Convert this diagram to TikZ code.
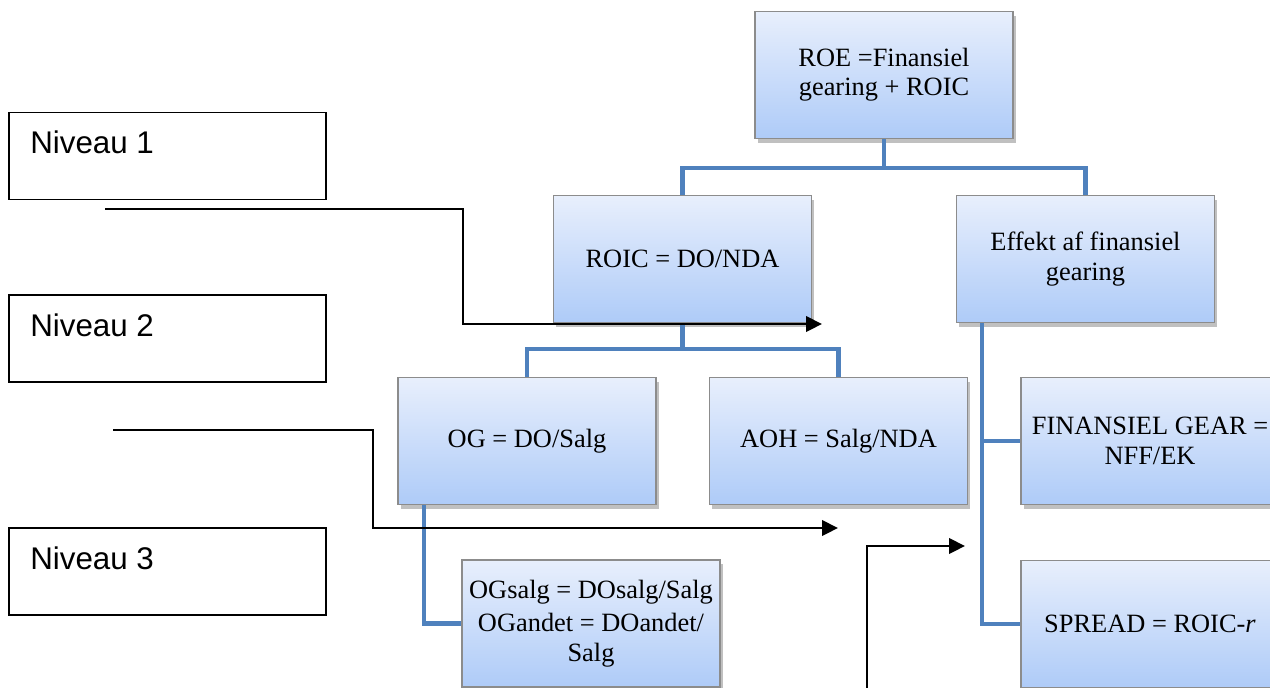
\documentclass[tikz,border=0pt]{standalone}
\usepackage{fontspec}
\setmainfont{Liberation Serif}
\newfontfamily\nivfont{Liberation Sans}
\usetikzlibrary{shadows,arrows.meta}
\definecolor{conn}{RGB}{79,129,189}
\definecolor{boxtop}{RGB}{232,239,252}
\definecolor{boxbot}{RGB}{174,203,248}
\definecolor{boxline}{RGB}{140,140,140}
\tikzset{
  fbox/.style={draw=boxline, line width=0.9pt, top color=boxtop, bottom color=boxbot,
    minimum width=258*0.75pt, minimum height=127*0.75pt, inner sep=2pt,
    align=center, font=\fontsize{19.8}{22}\selectfont,
    drop shadow={shadow xshift=2pt, shadow yshift=-3pt, opacity=0.35, fill=black!70}},
  nivbox/.style={draw=black, line width=1.3pt, minimum width=317*0.75pt, minimum height=87*0.75pt, inner sep=0pt},
  nivtext/.style={anchor=base west, inner sep=0pt, font=\nivfont\fontsize{23.5}{27}\selectfont},
  link/.style={draw=conn, line width=3.5pt},
  pointer/.style={draw=black, line width=2.2pt, -{Triangle[length=12pt,width=11.5pt]}},
}
\begin{document}
\begin{tikzpicture}[x=0.75pt,y=-0.75pt]
\useasboundingbox (0,0) rectangle (1270,687);
\clip (0,0) rectangle (1270,687);
\fill[white] (0,0) rectangle (1270,687);
% Niveau boxes
\node[nivbox] (n1) at (167.5,156) {};
\node[nivtext] (n1t) at (30,153) {Niveau 1};
\node[nivbox] (n2) at (167.5,338.5) {};
\node[nivtext] (n2t) at (30,336) {Niveau 2};
\node[nivbox] (n3) at (167.5,571.5) {};
\node[nivtext] (n3t) at (30,569) {Niveau 3};
% main boxes
\node[fbox] (roe) at (884,75) {ROE =Finansiel\\gearing + ROIC};
\node[fbox] (roic) at (682.5,259) {ROIC = DO/NDA};
\node[fbox] (eff) at (1085.5,259) {Effekt af finansiel\\gearing};
\node[fbox] (og) at (527,441) {OG = DO/Salg};
\node[fbox] (aoh) at (838.5,441) {AOH = Salg/NDA};
\node[fbox] (fin) at (1150,441) {FINANSIEL GEAR =\\NFF/EK};
\node[fbox] (ogs) at (591,623.5) {OGsalg = DOsalg/Salg\\[3pt]OGandet = DOandet/\\Salg};
\node[fbox] (spread) at (1150,624) {SPREAD = ROIC-\textit{r}};
% blue connectors
\draw[link] (roe.south) -- (roe.south |- 0,168) -| (roic.north);
\draw[link] (roe.south |- 0,168) -| (eff.north);
\draw[link] (roic.south) -- (roic.south |- 0,349) -| (og.north);
\draw[link] (roic.south |- 0,349) -| (aoh.north);
\draw[link] (og.south -| 424,0) |- (ogs.west);
\draw[link] (eff.south -| 982,0) |- (fin.west);
\draw[link] (eff.south -| 982,0) |- (spread.west);
% black pointers
\coordinate (p1s) at (105,209);
\coordinate (p1e) at (822,324);
\coordinate (p2s) at (113,430);
\coordinate (p2e) at (838,528);
\coordinate (p3s) at (867,690);
\coordinate (p3e) at (965,546);
\draw[pointer] (p1s) -- (463,209) -- (463,324) -- (p1e);
\draw[pointer] (p2s) -- (373,430) -- (373,528) -- (p2e);
\draw[pointer] (p3s) |- (p3e);
\end{tikzpicture}
\end{document}
